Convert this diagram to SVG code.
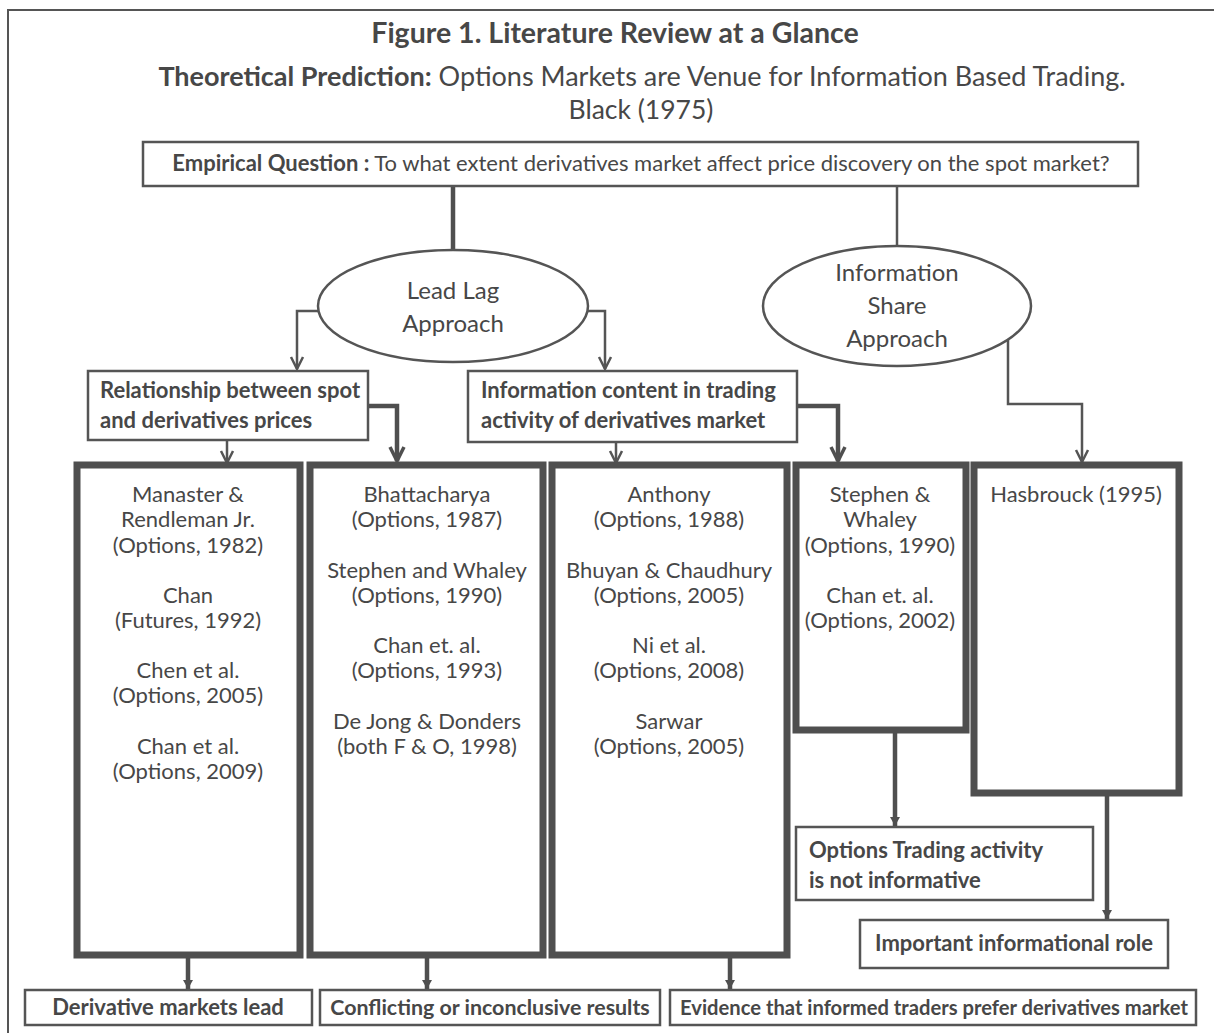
<svg xmlns="http://www.w3.org/2000/svg" width="1214" height="1033" viewBox="0 0 1214 1033">
<style>
  text { font-family: Lato, "Open Sans", sans-serif; fill: #474747; }
  .b { font-weight: bold; }
  .box { fill: #fff; stroke: #555; stroke-width: 2.5; }
  .thick { fill: #fff; stroke: #4f4f4f; stroke-width: 7; }
  .ell { fill: #fff; stroke: #555; stroke-width: 2.5; }
  .c { fill: none; stroke: #555; stroke-width: 2.5; }
  .ct { fill: none; stroke: #4f4f4f; stroke-width: 4.5; }
  .ref { font-size: 22px; text-anchor: middle; }
  .lbl { font-size: 22px; font-weight: bold; }
  .mid { text-anchor: middle; }
</style>
<defs>
  <marker id="av" markerUnits="userSpaceOnUse" markerWidth="20" markerHeight="20" refX="0" refY="0" orient="auto" overflow="visible">
    <path d="M-12,-6 L0,0 L-12,6" fill="none" stroke="#555" stroke-width="2.5"/>
  </marker>
  <marker id="avt" markerUnits="userSpaceOnUse" markerWidth="20" markerHeight="20" refX="0" refY="0" orient="auto" overflow="visible">
    <path d="M-14,-7 L0,0 L-14,7" fill="none" stroke="#4f4f4f" stroke-width="3.5"/>
  </marker>
  <marker id="af" markerUnits="userSpaceOnUse" markerWidth="20" markerHeight="20" refX="0" refY="0" orient="auto" overflow="visible">
    <path d="M-9,-5 L0,0 L-9,5 z" fill="#4f4f4f"/>
  </marker>
</defs>
<rect x="0" y="0" width="1214" height="1033" fill="#fff"/>
<rect x="8" y="10" width="1212" height="1030" fill="none" stroke="#555" stroke-width="2"/>

<g id="title">
  <text x="615" y="43" class="b mid" font-size="28.5">Figure 1. Literature Review at a Glance</text>
  <text x="642" y="86" class="mid" font-size="27"><tspan class="b">Theoretical Prediction:</tspan> Options Markets are Venue for Information Based Trading.</text>
  <text x="641" y="119" class="mid" font-size="26.5">Black (1975)</text>
</g>

<g id="connectors">
  <path class="ct" d="M453,186 V250"/>
  <path class="c" d="M897,186 V247"/>
  <path class="c" d="M320,311 H297 V369" marker-end="url(#av)"/>
  <path class="c" d="M586,311 H605 V369" marker-end="url(#av)"/>
  <path class="c" d="M227,440 V463" marker-end="url(#av)"/>
  <path class="ct" d="M368,406 H397 V461" marker-end="url(#avt)"/>
  <path class="c" d="M616,442 V463" marker-end="url(#av)"/>
  <path class="ct" d="M797,406 H838 V461" marker-end="url(#avt)"/>
  <path class="c" d="M1008,338 V404 H1082 V462" marker-end="url(#av)"/>
  <path class="ct" d="M188,958 V989" marker-end="url(#af)"/>
  <path class="ct" d="M427,958 V989" marker-end="url(#af)"/>
  <path class="ct" d="M730,958 V989" marker-end="url(#af)"/>
  <path class="ct" d="M895,733 V826" marker-end="url(#af)"/>
  <path class="ct" d="M1107,796 V919" marker-end="url(#af)"/>
</g>

<g id="empirical">
  <rect class="box" x="143" y="142" width="995" height="44"/>
  <text x="641" y="171" class="mid" font-size="22"><tspan class="b">Empirical Question :</tspan> To what extent derivatives market affect price discovery on the spot market?</text>
</g>

<g id="leadlag">
  <ellipse class="ell" cx="453" cy="306" rx="135" ry="56"/>
  <text x="453" y="299" class="mid" font-size="24">Lead Lag</text>
  <text x="453" y="332" class="mid" font-size="24">Approach</text>
</g>

<g id="infoshare">
  <ellipse class="ell" cx="897" cy="306" rx="134" ry="60"/>
  <text x="897" y="281" class="mid" font-size="24">Information</text>
  <text x="897" y="314" class="mid" font-size="24">Share</text>
  <text x="897" y="347" class="mid" font-size="24">Approach</text>
</g>

<g id="relationship">
  <rect class="box" x="88" y="371" width="280" height="69"/>
  <text x="100" y="398" class="lbl">Relationship between spot</text>
  <text x="100" y="428" class="lbl">and derivatives prices</text>
</g>

<g id="infocontent">
  <rect class="box" x="468" y="371" width="329" height="71"/>
  <text x="481" y="398" class="lbl">Information content in trading</text>
  <text x="481" y="428" class="lbl">activity of derivatives market</text>
</g>

<g id="col1">
  <rect class="thick" x="77" y="465" width="223" height="490"/>
  <text class="ref" x="188" y="502">Manaster &amp;</text>
  <text class="ref" x="188" y="527">Rendleman Jr.</text>
  <text class="ref" x="188" y="553">(Options, 1982)</text>
  <text class="ref" x="188" y="603">Chan</text>
  <text class="ref" x="188" y="628">(Futures, 1992)</text>
  <text class="ref" x="188" y="678">Chen et al.</text>
  <text class="ref" x="188" y="703">(Options, 2005)</text>
  <text class="ref" x="188" y="754">Chan et al.</text>
  <text class="ref" x="188" y="779">(Options, 2009)</text>
</g>

<g id="col2">
  <rect class="thick" x="310" y="465" width="233" height="490"/>
  <text class="ref" x="427" y="502">Bhattacharya</text>
  <text class="ref" x="427" y="527">(Options, 1987)</text>
  <text class="ref" x="427" y="578">Stephen and Whaley</text>
  <text class="ref" x="427" y="603">(Options, 1990)</text>
  <text class="ref" x="427" y="653">Chan et. al.</text>
  <text class="ref" x="427" y="678">(Options, 1993)</text>
  <text class="ref" x="427" y="729">De Jong &amp; Donders</text>
  <text class="ref" x="427" y="754">(both F &amp; O, 1998)</text>
</g>

<g id="col3">
  <rect class="thick" x="552" y="465" width="235" height="490"/>
  <text class="ref" x="669" y="502">Anthony</text>
  <text class="ref" x="669" y="527">(Options, 1988)</text>
  <text class="ref" x="669" y="578">Bhuyan &amp; Chaudhury</text>
  <text class="ref" x="669" y="603">(Options, 2005)</text>
  <text class="ref" x="669" y="653">Ni et al.</text>
  <text class="ref" x="669" y="678">(Options, 2008)</text>
  <text class="ref" x="669" y="729">Sarwar</text>
  <text class="ref" x="669" y="754">(Options, 2005)</text>
</g>

<g id="col4">
  <rect class="thick" x="796" y="465" width="170" height="265"/>
  <text class="ref" x="880" y="502">Stephen &amp;</text>
  <text class="ref" x="880" y="527">Whaley</text>
  <text class="ref" x="880" y="553">(Options, 1990)</text>
  <text class="ref" x="880" y="603">Chan et. al.</text>
  <text class="ref" x="880" y="628">(Options, 2002)</text>
</g>

<g id="col5">
  <rect class="thick" x="974" y="465" width="205" height="328"/>
  <text class="ref" x="1076" y="502">Hasbrouck (1995)</text>
</g>

<g id="notinformative">
  <rect class="box" x="796" y="827" width="297" height="73"/>
  <text x="809" y="858" class="lbl">Options Trading activity</text>
  <text x="809" y="888" class="lbl">is not informative</text>
</g>

<g id="important">
  <rect class="box" x="860" y="920" width="308" height="48"/>
  <text x="1014" y="951" class="lbl mid">Important informational role</text>
</g>

<g id="lead">
  <rect class="box" x="25" y="990" width="287" height="35"/>
  <text x="168" y="1015" class="lbl mid">Derivative markets lead</text>
</g>

<g id="conflicting">
  <rect class="box" x="320" y="990" width="340" height="35"/>
  <text x="490" y="1015" class="lbl mid" style="font-size:21.4px">Conflicting or inconclusive results</text>
</g>

<g id="evidence">
  <rect class="box" x="670" y="990" width="526" height="35"/>
  <text x="934" y="1015" class="lbl mid" style="font-size:20.2px">Evidence that informed traders prefer derivatives market</text>
</g>
</svg>
